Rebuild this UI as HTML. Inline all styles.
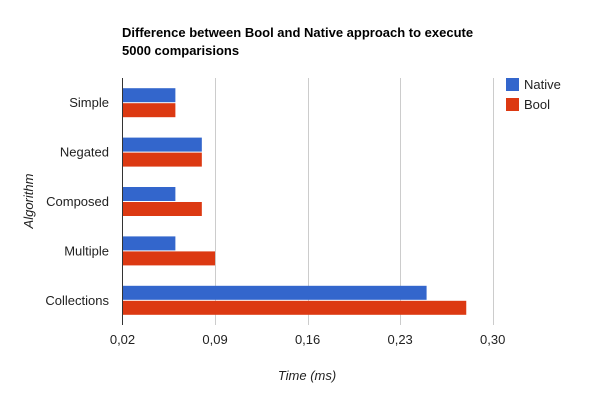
<!DOCTYPE html>
<html><head><meta charset="utf-8"><style>
html,body{margin:0;padding:0;background:#fff;}
svg{display:block;font-family:"Liberation Sans",Arial,sans-serif;}
</style></head><body>
<svg id="chart" width="608" height="406" viewBox="0 0 608 406">
<rect width="608" height="406" fill="#fff"/>
<text x="122" y="37" font-size="13" font-weight="bold" fill="#000"><tspan x="122" y="37">Difference between Bool and Native approach to execute</tspan><tspan x="122" y="55">5000 comparisions</tspan></text>
<g id="grid"></g>
<g id="bars"></g>
<g id="ylabels"></g>
<g id="xlabels"></g>
<line x1="122.5" y1="78" x2="122.5" y2="325" stroke="#333" stroke-width="1"/>
<text x="33" y="201" font-size="13" font-style="italic" fill="#222" text-anchor="middle" transform="rotate(-90 33 201)">Algorithm</text>
<text x="307" y="380" font-size="13" font-style="italic" fill="#222" text-anchor="middle">Time (ms)</text>
<g><rect x="506" y="78" width="13" height="13" fill="#3366cc"/><text x="524" y="89" font-size="13" fill="#222">Native</text></g>
<g><rect x="506" y="98" width="13" height="13" fill="#dc3912"/><text x="524" y="109" font-size="13" fill="#222">Bool</text></g>
</svg>
<script>
const categories = ["Simple","Negated","Composed","Multiple","Collections"];
const nativeValues = [0.06,0.08,0.06,0.06,0.25];
const boolValues = [0.06,0.08,0.08,0.09,0.28];
const tickValues = [0.02,0.09,0.16,0.23,0.30];
const tickLabels = ["0,02","0,09","0,16","0,23","0,30"];

const NS="http://www.w3.org/2000/svg";
const plotX0=122.5, plotX1=492.7, plotTop=78, plotBottom=325;
const dMin=0.02, dMax=0.30;
function xs(v){return plotX0+(v-dMin)/(dMax-dMin)*(plotX1-plotX0);}
const band=(plotBottom-plotTop)/categories.length;
function mk(tag,attrs,parent){const e=document.createElementNS(NS,tag);for(const k in attrs)e.setAttribute(k,attrs[k]);parent.appendChild(e);return e;}
const gridG=document.getElementById('grid'), barsG=document.getElementById('bars'), ylG=document.getElementById('ylabels'), xlG=document.getElementById('xlabels');
tickValues.forEach((v,i)=>{
  if(i>0){const g=mk('line',{x1:Math.round(xs(v))+0.5,x2:Math.round(xs(v))+0.5,y1:plotTop,y2:plotBottom,stroke:'#ccc','stroke-width':1},gridG);
  
  }
  const t=mk('text',{x:xs(v),y:344,'font-size':13,fill:'#222','text-anchor':'middle'},xlG);
  t.textContent=tickLabels[i];
  
  
});
categories.forEach((c,i)=>{
  const cy=plotTop+band*(i+0.5);
  const t=mk('text',{x:109,y:cy+4.5,'font-size':13,fill:'#222','text-anchor':'end'},ylG);
  t.textContent=c;
  
  
  const b1=mk('rect',{x:plotX0-0.5,y:cy-14.5,width:xs(nativeValues[i])-plotX0+0.5,height:14,fill:'#3366cc'},barsG);
  
  
  const b2=mk('rect',{x:plotX0-0.5,y:cy+0.5,width:xs(boolValues[i])-plotX0+0.5,height:14,fill:'#dc3912'},barsG);
  
  
});
</script>
</body></html>
